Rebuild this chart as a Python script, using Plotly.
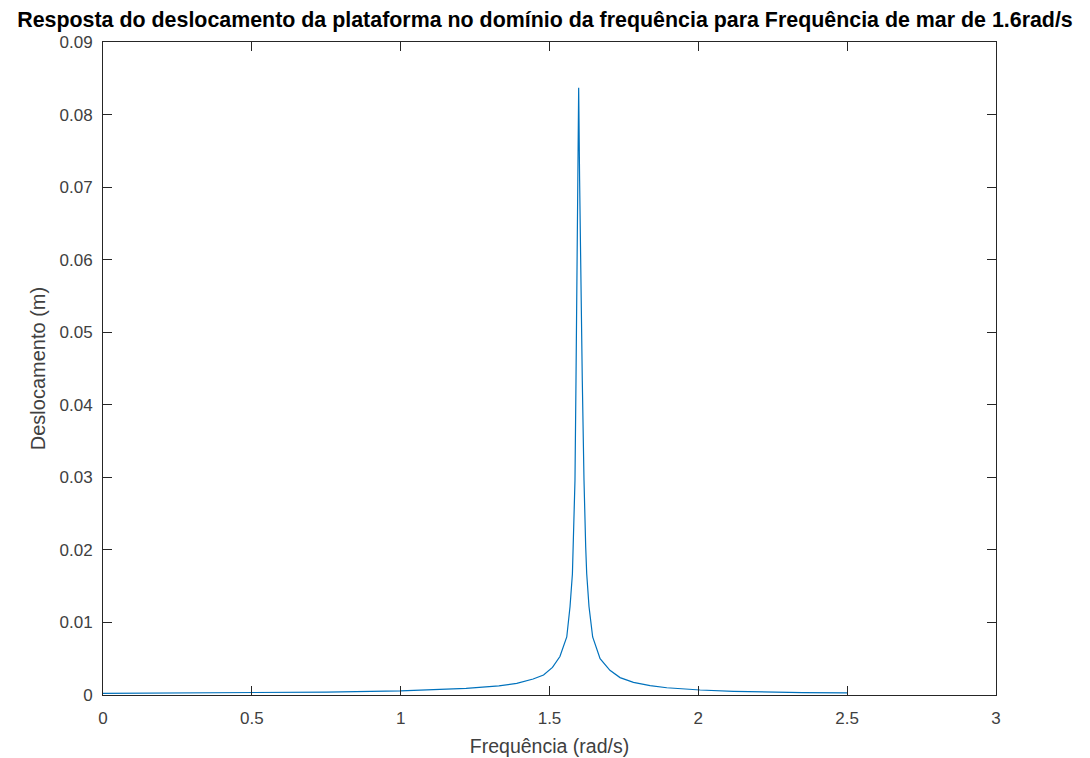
import plotly.graph_objects as go

# Frequency (rad/s) and displacement (m)
frequencia = [0.0, 0.25, 0.5, 0.75, 1.0, 1.11, 1.22, 1.33, 1.39, 1.445, 1.48, 1.51,
              1.535, 1.558, 1.569, 1.577, 1.580, 1.5833, 1.5856, 1.589, 1.5912, 1.5945,
              1.598, 1.6012, 1.6048, 1.6102, 1.6159, 1.6182, 1.6216, 1.625, 1.6327,
              1.645, 1.67, 1.703, 1.737, 1.782, 1.838, 1.894, 2.006, 2.118, 2.207,
              2.35, 2.5]
deslocamento = [0.00023, 0.00026, 0.00031, 0.0004, 0.00057, 0.0007, 0.00092, 0.00127,
                0.0016, 0.0022, 0.00275, 0.0038, 0.0053, 0.0080, 0.0122, 0.0167, 0.0204,
                0.025, 0.0296, 0.0433, 0.0571, 0.0709, 0.0837, 0.0709, 0.0571, 0.0433,
                0.0296, 0.025, 0.0204, 0.0167, 0.0122, 0.008, 0.005, 0.0034, 0.0024,
                0.00175, 0.00128, 0.001, 0.00069, 0.00051, 0.00041, 0.00034, 0.00029]

x_ticks = [0, 0.5, 1, 1.5, 2, 2.5, 3]
x_labels = ["0", "0.5", "1", "1.5", "2", "2.5", "3"]
y_ticks = [0, 0.01, 0.02, 0.03, 0.04, 0.05, 0.06, 0.07, 0.08, 0.09]
y_labels = ["0", "0.01", "0.02", "0.03", "0.04", "0.05", "0.06", "0.07", "0.08", "0.09"]

title_text = "Resposta do deslocamento da plataforma no domínio da frequência para Frequência de mar de 1.6rad/s"

FONT = "Liberation Sans, Arial, sans-serif"
W, H = 1090, 758

fig = go.Figure()
fig.add_trace(go.Scatter(x=frequencia, y=deslocamento, mode="lines",
                         line=dict(color="#0072BD", width=1.2), showlegend=False))

axis_common = dict(showgrid=False, zeroline=False, showline=True, linecolor="#262626",
                   linewidth=1, mirror="ticks", ticks="inside", ticklen=9,
                   tickcolor="#262626", tickwidth=1, automargin=False,
                   tickfont=dict(family=FONT, size=17, color="#404040"))

fig.update_layout(
    width=W, height=H,
    margin=dict(l=95, r=102, t=34, b=71),
    paper_bgcolor="white", plot_bgcolor="white",
    title=dict(text="<b>" + title_text + "</b>", x=537 / W, xanchor="center",
               y=1 - 12 / H, yanchor="middle", xref="container", yref="container",
               font=dict(family=FONT, size=21.4, color="black")),
    xaxis=dict(range=[0, 3], tickvals=x_ticks, ticktext=x_labels, ticklabelstandoff=8,
               title=dict(text="Frequência (rad/s)", standoff=11,
                          font=dict(family=FONT, size=19.5, color="#404040")),
               **axis_common),
    yaxis=dict(range=[0, 0.09], tickvals=y_ticks, ticktext=y_labels, ticklabelstandoff=6,
               title=dict(text="Deslocamento (m)", standoff=8,
                          font=dict(family=FONT, size=20, color="#404040")),
               **axis_common),
)

fig.write_html("out.html")
